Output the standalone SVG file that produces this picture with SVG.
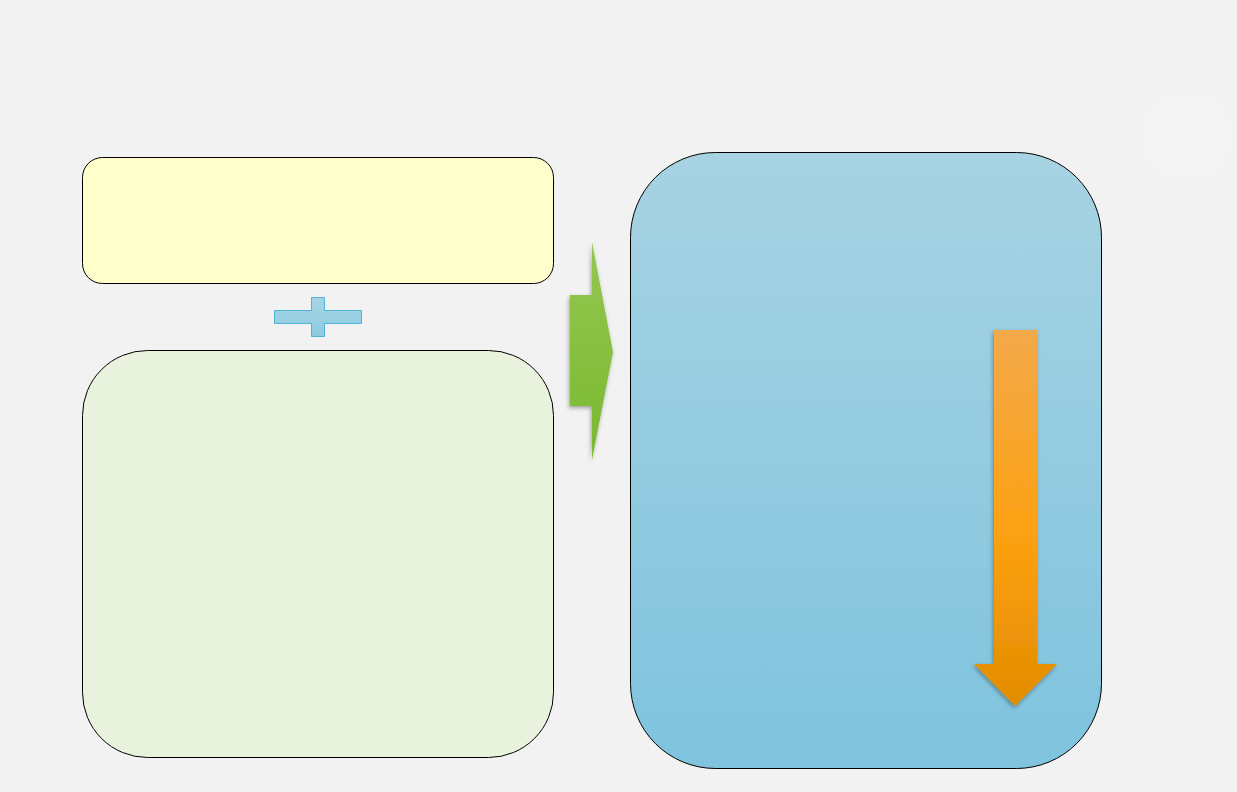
<svg xmlns="http://www.w3.org/2000/svg" width="1237" height="792" viewBox="0 0 1237 792">
<defs>
<linearGradient id="gBlue" x1="0" y1="0" x2="0" y2="1"><stop offset="0" stop-color="#a7d3e3"/><stop offset="1" stop-color="#7fc3de"/></linearGradient>
<linearGradient id="gGreen" x1="0" y1="0" x2="0" y2="1"><stop offset="0" stop-color="#93c850"/><stop offset="1" stop-color="#7ab830"/></linearGradient>
<linearGradient id="gOrange" x1="0" y1="0" x2="0" y2="1"><stop offset="0" stop-color="#f3a94a"/><stop offset="0.55" stop-color="#fca112"/><stop offset="1" stop-color="#e28c00"/></linearGradient>
<linearGradient id="gPlus" x1="0" y1="0" x2="0" y2="1"><stop offset="0" stop-color="#a6d4e6"/><stop offset="1" stop-color="#8ccbe0"/></linearGradient>
<filter id="sh" x="-30%" y="-10%" width="160%" height="120%"><feDropShadow dx="-1" dy="2" stdDeviation="2" flood-color="#000" flood-opacity="0.35"/></filter>
<filter id="blur"><feGaussianBlur stdDeviation="3"/></filter>
</defs>
<style>.box{stroke:#000;stroke-width:1}</style>
<rect width="1237" height="792" fill="#f2f2f2"/>
<rect x="1145" y="95" width="85" height="82" rx="28" fill="#f4f4f4" filter="url(#blur)"/>
<g id="yellow"><rect class="box" x="82.5" y="157.5" width="471" height="126" rx="20" fill="#ffffcc"/></g>
<g id="plus"><path d="M274.5,310.5H311.5V297.5H324.5V310.5H361.5V323.5H324.5V336.5H311.5V323.5H274.5Z" fill="url(#gPlus)" stroke="#4fb3d4" stroke-width="1"/></g>
<g id="green"><rect class="box" x="82.5" y="350.5" width="471" height="407" rx="65" fill="#e8f2dc"/></g>
<g id="blue"><rect class="box" x="630.5" y="152.5" width="471" height="616" rx="85" fill="url(#gBlue)"/></g>
<g id="connectors">
<path d="M570,295H592V242L613,352L592,460V406H570Z" fill="url(#gGreen)" filter="url(#sh)"/>
<path d="M994,330H1037V664H1057L1015,706L974,664H994Z" fill="url(#gOrange)" filter="url(#sh)"/>
</g>
</svg>
